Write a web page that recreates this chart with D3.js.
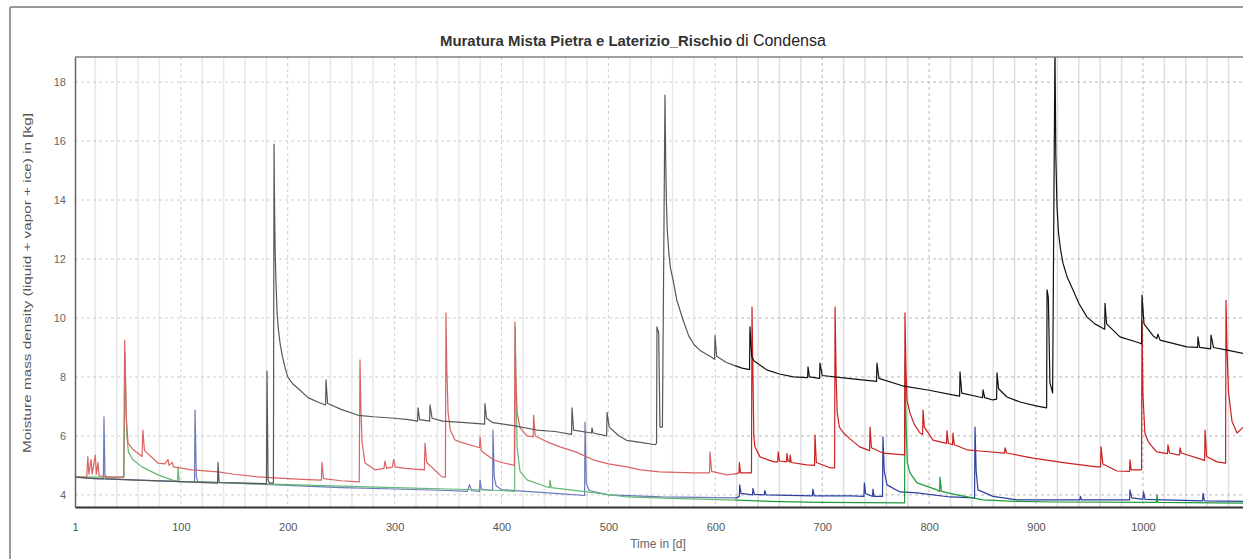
<!DOCTYPE html>
<html>
<head>
<meta charset="utf-8">
<script src="https://cdn.jsdelivr.net/npm/d3@7"></script>
<style>
  body { margin: 0; background: #fff; }
  text { font-family: "Liberation Sans", Arial, sans-serif; }
</style>
</head>
<body>
<div id="chart"></div>
<script>
// Chart size and plot area
const width = 1243;
const height = 559;
const margin = { top: 57, right: 0, bottom: 52, left: 75 };

// Tick labels
const xTicks = [1, 100, 200, 300, 400, 500, 600, 700, 800, 900, 1000];
const yTicks = [4, 6, 8, 10, 12, 14, 16, 18];

// Series: [day, moisture] pairs
const blackSeries = [
  [1,4.6],[20,4.55],[60,4.5],[100,4.45],[134.3,4.4],[134.8,5.1],[135.8,4.42],[160,4.4],[180.1,4.38],[180.6,8.2],[181.6,4.5],[183,4.4],
  [186.6,4.4],[187.2,15.9],[187.6,14.0],[188.2,12.3],[189,11.2],[190,10.2],[191,9.7],[193,9.1],[195,8.7],[198,8.25],[200,8.0],
  [205,7.75],[210,7.6],[219,7.3],[228,7.15],[235.4,7.05],[235.8,7.9],
  [237.3,7.1],[250,6.9],[266,6.7],[280,6.65],[300,6.6],[313,6.55],[321.5,6.5],[321.9,6.95],[323.4,6.55],[332.7,6.5],[333.1,7.05],[335,6.6],
  [345,6.5],[366,6.45],[384.1,6.4],[384.5,7.1],[386,6.6],[392,6.45],[411,6.35],[433,6.2],[450,6.15],[465.5,6.05],[465.9,6.95],[467.4,6.2],
  [484.2,6.1],[484.6,6.27],[485.6,6.1],[498.3,6.0],[498.7,6.8],[500.7,6.3],[510,6.0],[517,5.85],[530,5.78],[543.6,5.7],[545,5.75],
  [545.4,9.7],[547,9.5],[548.2,6.3],[550.5,6.3],[552.9,17.56],[553.5,15.5],[554.2,14.0],[555,13.0],[556.5,12.2],[558,11.7],
  [560.4,11.3],[564,10.6],[569.8,9.93],[575,9.4],[580,9.1],[585.7,8.9],
  [595,8.7],[599.3,8.6],[599.7,9.4],[601.2,8.7],[610,8.5],[617,8.4],[625,8.3],[632,8.25],[632.4,9.7],[634,8.7],[636,8.55],
  [642,8.4],[648,8.24],[660,8.1],[673,8.0],[686.3,7.98],[686.7,8.34],[688,8.0],[697.5,7.95],[697.9,8.47],[700,8.05],[724,7.95],
  [750.8,7.85],[751.2,8.47],[753,7.95],[775,7.7],[800,7.55],[822,7.39],[828.5,7.35],[828.9,8.17],[830.5,7.45],[847,7.32],[850,7.3],
  [850.4,7.56],[852,7.3],[859.5,7.22],[863.1,7.25],[863.5,8.14],[865,7.6],[872.8,7.32],[885,7.15],[900,7.02],[909.9,6.95],[910.3,10.95],
  [911.5,10.7],[913,7.8],[915.5,7.46],[917.7,19.2],[918.5,15.5],[919.6,13.8],[921,12.9],[923,12.3],[925.2,11.86],[929,11.4],
  [934.6,10.95],[940,10.5],[947.7,10.03],[955,9.8],[962,9.66],[964.2,9.62],
  [964.5,10.5],[966,9.8],[978.5,9.36],[997,9.15],[998.8,9.12],[999.1,10.78],[1001,9.8],[1009.4,9.4],[1013,9.3],[1014,9.45],[1016,9.25],
  [1041,9.02],[1051.1,9.0],[1051.5,9.36],[1053,9.0],[1063.3,8.95],[1063.7,9.42],[1066,9.0],[1080,8.9],[1094,8.8]
];

const redSeries = [
  [1,4.6],[12,4.6],[13,5.3],[14,4.7],[16,5.2],[17,4.7],[20,5.35],[21,4.7],[22.5,5.1],[23.5,4.65],[35,4.6],[46.5,4.6],[47.5,9.25],
  [48.2,8.0],[49,6.6],[50.6,5.76],[55,5.55],[63.7,5.3],[64.5,6.2],[66,5.5],[78.6,5.08],[85,5.05],[88,5.2],[89,5.0],[92,5.1],[93,4.95],[110,4.85],
  [134.8,4.78],[150,4.7],[172,4.61],[200,4.55],[219,4.52],[231.5,4.5],[232,5.1],[233.5,4.55],[250,4.48],[266.9,4.44],[267.6,8.58],
  [268.4,7.0],[269.5,5.8],[272.3,5.08],[281.6,4.85],[290,4.9],[291,5.15],[292.5,4.9],[298,4.95],[299,5.2],[300.5,4.95],[310,4.9],
  [327.8,4.85],[328.4,5.76],[330,5.1],[344.3,4.61],[347.5,4.6],[348,10.17],[348.8,8.3],[350,6.8],[352,6.2],[356.5,5.86],[361,5.8],[379.4,5.6],
  [379.9,5.97],[381,5.5],[392,5.2],[400,5.1],[412,5.0],[412.6,9.86],[413.4,8.0],[414.6,6.8],[417.3,6.27],[423.8,6.0],[429.6,5.97],
  [430,6.7],[431.5,6.0],[442.5,5.8],[454.7,5.63],[470,5.45],[485.6,5.19],[500,5.05],[517.4,4.95],[530,4.85],[548,4.78],[579,4.75],
  [594.6,4.75],[595,5.46],[596.5,4.8],[610.9,4.68],[620,4.72],[622.1,4.75],[622.5,5.1],[623.5,4.75],[633.8,4.75],[634.3,10.37],
  [635.2,8.0],[636,6.0],[637,5.63],[641.8,5.29],[654.9,5.12],[658.4,5.12],[658.8,5.46],[660,5.15],[666.6,5.12],[667,5.4],[668,5.15],
  [669.6,5.12],[670,5.35],[671,5.1],[685.7,5.02],[692.8,5.0],[693.2,6.03],[694.5,5.1],[707.3,4.92],[711.6,4.92],[712,10.37],[713,8.0],
  [714,6.8],[716,6.3],[720,6.1],[726,5.9],[735,5.63],[744.3,5.5],[744.7,6.3],[746,5.6],[756.8,5.42],[777,5.36],[777.4,10.17],[778.3,8.3],
  [779.3,7.2],[782.1,6.78],[786,6.4],[791.5,6.1],[793.9,6.05],[794.3,6.88],[795.5,6.3],[803.6,5.86],[816.3,5.75],[816.7,6.17],[818,5.75],
  [821.9,5.7],[822.3,6.1],[823.5,5.7],[835.4,5.53],[850,5.48],[870.6,5.42],[871,5.6],[872.5,5.42],[897.2,5.25],[929,5.08],[957,4.95],
  [960.4,4.95],[960.8,5.63],[962.5,5.05],[975.7,4.81],[987.5,4.8],[987.9,5.19],[989,4.85],[998.7,4.85],[999.1,9.9],[1000,7.4],
  [1001.8,6.1],[1005,5.8],[1009.4,5.6],[1013,5.46],[1023,5.4],[1023.4,5.7],[1025,5.42],[1032.8,5.36],[1034.3,5.36],[1034.7,5.6],[1036,5.42],
  [1056.2,5.19],[1057.7,5.17],[1058.1,6.2],[1059.5,5.3],[1069.3,5.12],[1077.3,5.08],[1077.7,10.6],[1078.6,9.0],[1080,7.5],[1083.3,6.5],
  [1088,6.1],[1094,6.3]
];

const greenSeries = [
  [1,4.6],[46.8,4.6],[47.8,8.8],[48.6,7.2],[49.5,6.0],[51,5.45],[55,5.2],[63.7,4.95],[78.6,4.68],[91.7,4.51],[97,4.45],[97.4,4.95],[98.5,4.45],
  [110,4.45],[150,4.4],[200,4.35],[250,4.3],[300,4.25],[350,4.2],[400,4.15],[412.3,4.12],[412.8,9.7],[413.6,7.5],[414.6,5.6],[417.3,4.8],
  [423.8,4.51],[442.5,4.27],[444.9,4.25],[445.3,4.5],[446.5,4.25],[480,4.1],[517.4,3.93],[560,3.88],[620,3.82],[660,3.77],[700,3.75],
  [740,3.74],[777,3.73],[777.6,8.5],[778.4,6.5],[779.5,5.1],[782,4.75],[788.7,4.41],[807.4,4.17],[809.8,4.12],[810.2,4.6],[811.5,4.12],
  [826.1,4.0],[850.4,3.83],[880,3.78],[920,3.76],[1012.7,3.75],[1013.1,4.0],[1014,3.75],[1094,3.72]
];

const blueSeries = [
  [1,4.6],[20,4.55],[27.6,4.55],[28.1,6.65],[29,4.7],[30.5,4.55],[60,4.5],[100,4.45],[112.8,4.45],[113.3,6.88],[114.5,4.6],[116,4.45],
  [150,4.4],[200,4.32],[250,4.25],[300,4.2],[350,4.15],[368,4.12],[370,4.35],[372,4.15],[379.4,4.12],[379.9,4.5],[381,4.2],[391.6,4.15],
  [392,6.2],[393.2,4.6],[395,4.3],[400,4.18],[450,4.05],[477.7,3.98],[478.1,6.47],[479.3,4.4],[482,4.15],[500,4.0],[550,3.93],[620,3.9],
  [622.4,3.95],[622.8,4.34],[624,4.05],[634.8,4.0],[635.2,4.22],[636.5,4.02],[645.8,4.0],[646.2,4.15],[647.5,4.0],[690.8,3.97],
  [691.2,4.2],[692.5,3.97],[727,3.97],[739,3.95],[739.4,4.41],[740.5,4.05],[747.1,3.95],[747.5,4.2],[748.5,3.95],[756.4,3.95],
  [756.8,5.97],[758,4.8],[760.6,4.34],[772.7,4.1],[788.7,4.07],[819.5,3.93],[842.5,3.9],[842.9,6.3],[844,4.8],[845.7,4.17],[859.8,3.95],
  [882.2,3.83],[941,3.83],[941.5,3.95],[942.5,3.83],[987.5,3.83],[987.9,4.17],[989.5,3.9],[1000,3.85],[1000.5,4.1],[1002,3.85],
  [1055.8,3.8],[1056.2,4.05],[1057.5,3.8],[1094,3.78]
];

const seriesColors = ["#111111", "#cc2020", "#1f9a3a", "#2c3f9e"];

const svg = d3.select("#chart")
  .append("svg")
  .attr("width", width)
  .attr("height", height);

// Scales
const x = d3.scaleLinear().domain([1, 1093.6]).range([margin.left, width - margin.right]);
const y = d3.scaleLinear().domain([3.59, 18.85]).range([height - margin.bottom, margin.top]);

// Outer frame (top and left only, the rest is cut off)
svg.append("line").attr("x1", 10).attr("x2", width).attr("y1", 7).attr("y2", 7)
  .attr("stroke", "#9a9a9a").attr("stroke-width", 2);
svg.append("line").attr("x1", 10).attr("x2", 10).attr("y1", 7).attr("y2", height)
  .attr("stroke", "#9a9a9a").attr("stroke-width", 2);

svg.append("clipPath").attr("id", "plot-clip")
  .append("rect")
  .attr("x", margin.left).attr("y", margin.top)
  .attr("width", width - margin.left - margin.right)
  .attr("height", height - margin.top - margin.bottom);

// Grid: light vertical lines every 20 days, dashed every 100 days, dashed horizontals
const grid = svg.append("g");
const minorDays = d3.range(20, 1094, 20).filter(d => d % 100 !== 0);
grid.selectAll(".vminor")
  .data(minorDays)
  .enter().append("line")
  .attr("x1", d => x(d)).attr("x2", d => x(d))
  .attr("y1", margin.top).attr("y2", height - margin.bottom)
  .attr("stroke", "#dedede").attr("stroke-width", 1.5);
grid.selectAll(".vmajor")
  .data(xTicks.slice(1))
  .enter().append("line")
  .attr("x1", d => x(d)).attr("x2", d => x(d))
  .attr("y1", margin.top).attr("y2", height - margin.bottom)
  .attr("stroke", "#b8b8b8").attr("stroke-width", 1)
  .attr("stroke-dasharray", "3,3");
grid.selectAll(".hgrid")
  .data(yTicks)
  .enter().append("line")
  .attr("x1", margin.left).attr("x2", width)
  .attr("y1", d => y(d)).attr("y2", d => y(d))
  .attr("stroke", "#b8b8b8").attr("stroke-width", 1)
  .attr("stroke-dasharray", "3,3");

// Lines
const line = d3.line()
  .x(d => x(d[0]))
  .y(d => y(d[1]));

const allSeries = [blueSeries, greenSeries, redSeries, blackSeries];
const allColors = [seriesColors[3], seriesColors[2], seriesColors[1], seriesColors[0]];

svg.append("g")
  .attr("clip-path", "url(#plot-clip)")
  .selectAll("path")
  .data(allSeries)
  .enter().append("path")
  .attr("d", line)
  .attr("fill", "none")
  .attr("stroke", (d, i) => allColors[i])
  .attr("stroke-width", 1.2)
  .attr("stroke-linejoin", "round");

// The left part of the original screenshot is faded
svg.append("rect")
  .attr("x", margin.left).attr("y", margin.top)
  .attr("width", 735 - margin.left)
  .attr("height", height - margin.top - margin.bottom)
  .attr("fill", "#fff").attr("opacity", 0.3);

// Plot borders
svg.append("line").attr("x1", margin.left).attr("x2", width).attr("y1", margin.top).attr("y2", margin.top)
  .attr("stroke", "#808080").attr("stroke-width", 1.5);

// Axes
const xAxis = d3.axisBottom(x).tickValues(xTicks).tickFormat(d3.format("d")).tickSize(0).tickPadding(16);
const yAxis = d3.axisLeft(y).tickValues(yTicks).tickSize(0).tickPadding(9);

const gx = svg.append("g")
  .attr("transform", `translate(0,${height - margin.bottom})`)
  .call(xAxis);
gx.select(".domain").attr("stroke", "#333").attr("stroke-width", 2);
gx.selectAll("text").attr("fill", "#555").style("font-size", "11px");

const gy = svg.append("g")
  .attr("transform", `translate(${margin.left},0)`)
  .call(yAxis);
gy.select(".domain").attr("stroke", "#666").attr("stroke-width", 1.5);
gy.selectAll("text").attr("fill", "#666").style("font-size", "11px");

// Axis titles
svg.append("text")
  .attr("x", 658).attr("y", 548)
  .attr("text-anchor", "middle")
  .attr("fill", "#666")
  .style("font-size", "12px")
  .text("Time in [d]");

svg.append("text")
  .attr("transform", "translate(31,283) rotate(-90)")
  .attr("text-anchor", "middle")
  .attr("fill", "#555")
  .style("font-size", "11px")
  .attr("textLength", 340)
  .attr("lengthAdjust", "spacingAndGlyphs")
  .text("Moisture mass density (liquid + vapor + ice) in [kg]");

// Title (two pieces, like the stitched screenshot)
svg.append("text")
  .attr("x", 440).attr("y", 46)
  .attr("fill", "#333")
  .style("font-size", "14px")
  .style("font-weight", "bold")
  .attr("textLength", 292)
  .attr("lengthAdjust", "spacingAndGlyphs")
  .text("Muratura Mista Pietra e Laterizio_Rischio");

svg.append("text")
  .attr("x", 736).attr("y", 46)
  .attr("fill", "#222")
  .style("font-size", "16px")
  .text("di Condensa");
</script>
</body>
</html>
